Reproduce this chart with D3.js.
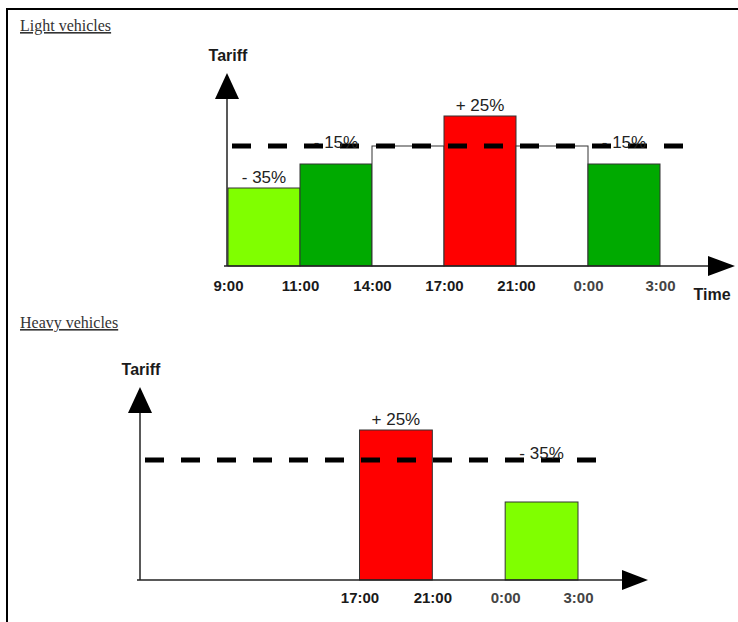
<!DOCTYPE html>
<html>
<head>
<meta charset="utf-8">
<script src="https://cdn.jsdelivr.net/npm/d3@7"></script>
<style>
  html, body { margin: 0; padding: 0; background: #fff; }
  svg { display: block; }
</style>
</head>
<body>
<svg id="chart" width="738" height="622"></svg>
<script>
// ---------- data ----------
const timeTicks = ["9:00", "11:00", "14:00", "17:00", "21:00", "0:00", "3:00"];
const baseTariff = 100;

const lightStart  = ["9:00", "11:00", "14:00", "17:00", "21:00", "0:00"];
const lightEnd    = ["11:00", "14:00", "17:00", "21:00", "0:00", "3:00"];
const lightTariff = [65, 85, 100, 125, 100, 85];
const lightLabels = ["- 35%", "- 15%", "", "+ 25%", "", "- 15%"];
const lightLabelOnBase = [false, true, false, false, false, true];
const lightTicks  = ["9:00", "11:00", "14:00", "17:00", "21:00", "0:00", "3:00"];

const heavyStart  = ["17:00", "0:00"];
const heavyEnd    = ["21:00", "3:00"];
const heavyTariff = [125, 65];
const heavyLabels = ["+ 25%", "- 35%"];
const heavyLabelOnBase = [false, true];
const heavyTicks  = ["17:00", "21:00", "0:00", "3:00"];

// ---------- drawing ----------
const svg = d3.select("#chart");
const INK = "#222";

function fillFor(v) {
  if (v > baseTariff) return "#ff0000";
  if (v === baseTariff) return "#ffffff";
  if (v <= 70) return "#80ff00";
  return "#00aa00";
}

// frame
svg.append("line").attr("x1", 7).attr("x2", 7).attr("y1", 8).attr("y2", 622)
  .attr("stroke", "#000").attr("stroke-width", 2);
svg.append("line").attr("x1", 6).attr("x2", 738).attr("y1", 9).attr("y2", 9)
  .attr("stroke", "#000").attr("stroke-width", 2);

function panel(cfg) {
  const g = svg.append("g");
  const x = d3.scalePoint().domain(timeTicks).range(cfg.xRange);
  const y = d3.scaleLinear().domain([0, baseTariff]).range([cfg.base, cfg.base - 120]);

  // title
  g.append("text").attr("x", 20).attr("y", cfg.titleY)
    .attr("font-family", "'Liberation Serif', 'Times New Roman', serif")
    .attr("font-size", 16).attr("fill", "#333")
    .attr("text-decoration", "underline")
    .text(cfg.title);

  // bars
  const bars = cfg.start.map((s, i) => ({
    s, e: cfg.end[i], v: cfg.tariff[i], label: cfg.labels[i], onBase: cfg.onBase[i]
  }));
  g.selectAll("rect.bar").data(bars).join("rect").attr("class", "bar")
    .attr("x", d => x(d.s))
    .attr("width", d => x(d.e) - x(d.s))
    .attr("y", d => y(d.v))
    .attr("height", d => y(0) - y(d.v))
    .attr("fill", d => fillFor(d.v))
    .attr("stroke", "#333").attr("stroke-width", 1);

  // dashed base tariff line
  g.append("line")
    .attr("x1", cfg.dashX[0]).attr("x2", cfg.dashX[1])
    .attr("y1", y(baseTariff)).attr("y2", y(baseTariff))
    .attr("stroke", "#000").attr("stroke-width", 5)
    .attr("stroke-dasharray", "19,17");

  // labels
  g.selectAll("text.lbl").data(bars.filter(d => d.label)).join("text").attr("class", "lbl")
    .attr("x", d => (x(d.s) + x(d.e)) / 2)
    .attr("y", d => d.onBase ? y(baseTariff) + cfg.baseLblOff : y(d.v) - 5)
    .attr("text-anchor", "middle")
    .attr("font-family", "Arial, 'Liberation Sans', sans-serif")
    .attr("font-size", 17).attr("fill", "#222")
    .text(d => d.label);

  // axes lines
  const x0 = x(timeTicks[0]) - 1;
  g.append("line").attr("x1", x0).attr("x2", x0).attr("y1", y(0)).attr("y2", cfg.yArrow[1])
    .attr("stroke", INK).attr("stroke-width", 1.5);
  g.append("path")
    .attr("d", `M${x0},${cfg.yArrow[0]} L${x0 - 12},${cfg.yArrow[1]} L${x0 + 12},${cfg.yArrow[1]} Z`)
    .attr("fill", "#000");
  g.append("line").attr("x1", x0 - 3).attr("x2", cfg.xArrow[0]).attr("y1", y(0)).attr("y2", y(0))
    .attr("stroke", INK).attr("stroke-width", 1.5);
  g.append("path")
    .attr("d", `M${cfg.xArrow[1]},${y(0)} L${cfg.xArrow[0]},${y(0) - 10} L${cfg.xArrow[0]},${y(0) + 10} Z`)
    .attr("fill", "#000");

  // tick labels via d3 axis
  const axis = d3.axisBottom(x).tickValues(cfg.ticks).tickSize(0).tickPadding(cfg.pad);
  const ag = g.append("g").attr("transform", `translate(0,${y(0)})`).call(axis);
  ag.select(".domain").remove();
  ag.selectAll("text")
    .attr("font-family", "Arial, 'Liberation Sans', sans-serif")
    .attr("font-size", 15).attr("font-weight", "bold")
    .attr("fill", d => (d === "0:00" || d === "3:00") ? "#444" : "#1a1a1a");

  // Tariff label
  g.append("text").attr("x", x0 + 1).attr("y", cfg.tariffY)
    .attr("text-anchor", "middle")
    .attr("font-family", "Arial, 'Liberation Sans', sans-serif")
    .attr("font-size", 16).attr("font-weight", "bold").attr("fill", "#1a1a1a")
    .text("Tariff");

  if (cfg.timeLabel) {
    g.append("text").attr("x", 712).attr("y", 300)
      .attr("text-anchor", "middle")
      .attr("font-family", "Arial, 'Liberation Sans', sans-serif")
      .attr("font-size", 16).attr("font-weight", "bold").attr("fill", "#1a1a1a")
      .text("Time");
  }
}

panel({
  title: "Light vehicles", titleY: 31,
  xRange: [228, 660], base: 266,
  start: lightStart, end: lightEnd, tariff: lightTariff,
  labels: lightLabels, onBase: lightLabelOnBase, ticks: lightTicks,
  dashX: [232, 683], yArrow: [73, 99], xArrow: [708, 735],
  pad: 14, tariffY: 61, timeLabel: true, baseLblOff: 2
});

panel({
  title: "Heavy vehicles", titleY: 328,
  xRange: [141, 578], base: 580,
  start: heavyStart, end: heavyEnd, tariff: heavyTariff,
  labels: heavyLabels, onBase: heavyLabelOnBase, ticks: heavyTicks,
  dashX: [145, 596], yArrow: [387, 413], xArrow: [622, 648],
  pad: 12, tariffY: 375, timeLabel: false, baseLblOff: -1
});
</script>
</body>
</html>
